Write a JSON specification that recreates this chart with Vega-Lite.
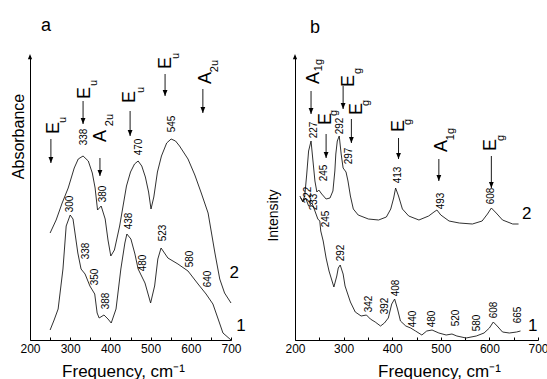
{
"$schema": "https://vega.github.io/schema/vega-lite/v6.json",
"background": "white",
"padding": {"left": 9, "top": 16, "right": 0, "bottom": 0},
"bounds": "flush",
"spacing": 64,
"config": {"view": {"stroke": null}, "font": "Liberation Sans", "axis": {"labelFont": "Liberation Sans", "titleFont": "Liberation Sans", "grid": false, "domainColor": "#000", "tickColor": "#000", "labelColor": "#000", "titleColor": "#000", "titleFontWeight": "normal"}},
"datasets": {
"curves": [
{"p":"a","c":"1","x":250,"y":10},{"p":"a","c":"1","x":260,"y":20},{"p":"a","c":"1","x":270,"y":31},{"p":"a","c":"1","x":282,"y":71},{"p":"a","c":"1","x":290,"y":114},{"p":"a","c":"1","x":300,"y":125},{"p":"a","c":"1","x":307,"y":121},{"p":"a","c":"1","x":319,"y":87},{"p":"a","c":"1","x":327,"y":71},{"p":"a","c":"1","x":337,"y":66},{"p":"a","c":"1","x":349,"y":54},{"p":"a","c":"1","x":361,"y":46},{"p":"a","c":"1","x":367,"y":27},{"p":"a","c":"1","x":372,"y":22},{"p":"a","c":"1","x":384,"y":25},{"p":"a","c":"1","x":394,"y":21},{"p":"a","c":"1","x":402,"y":17},{"p":"a","c":"1","x":414,"y":31},{"p":"a","c":"1","x":426,"y":71},{"p":"a","c":"1","x":436,"y":97},{"p":"a","c":"1","x":441,"y":106},{"p":"a","c":"1","x":451,"y":101},{"p":"a","c":"1","x":461,"y":86},{"p":"a","c":"1","x":469,"y":71},{"p":"a","c":"1","x":486,"y":57},{"p":"a","c":"1","x":493,"y":47},{"p":"a","c":"1","x":500,"y":37},{"p":"a","c":"1","x":510,"y":54},{"p":"a","c":"1","x":518,"y":81},{"p":"a","c":"1","x":526,"y":92},{"p":"a","c":"1","x":543,"y":82},{"p":"a","c":"1","x":568,"y":76},{"p":"a","c":"1","x":593,"y":69},{"p":"a","c":"1","x":618,"y":56},{"p":"a","c":"1","x":638,"y":46},{"p":"a","c":"1","x":655,"y":36},{"p":"a","c":"1","x":668,"y":21},{"p":"a","c":"1","x":680,"y":7},{"p":"a","c":"1","x":700,"y":0},
{"p":"a","c":"2","x":250,"y":107},{"p":"a","c":"2","x":265,"y":120},{"p":"a","c":"2","x":280,"y":137},{"p":"a","c":"2","x":295,"y":152},{"p":"a","c":"2","x":310,"y":172},{"p":"a","c":"2","x":320,"y":181},{"p":"a","c":"2","x":332,"y":184},{"p":"a","c":"2","x":345,"y":179},{"p":"a","c":"2","x":355,"y":167},{"p":"a","c":"2","x":362,"y":152},{"p":"a","c":"2","x":368,"y":130},{"p":"a","c":"2","x":377,"y":134},{"p":"a","c":"2","x":387,"y":121},{"p":"a","c":"2","x":394,"y":100},{"p":"a","c":"2","x":401,"y":84},{"p":"a","c":"2","x":410,"y":90},{"p":"a","c":"2","x":423,"y":114},{"p":"a","c":"2","x":440,"y":154},{"p":"a","c":"2","x":450,"y":168},{"p":"a","c":"2","x":460,"y":176},{"p":"a","c":"2","x":469,"y":179},{"p":"a","c":"2","x":478,"y":174},{"p":"a","c":"2","x":487,"y":163},{"p":"a","c":"2","x":495,"y":148},{"p":"a","c":"2","x":501,"y":131},{"p":"a","c":"2","x":508,"y":143},{"p":"a","c":"2","x":517,"y":168},{"p":"a","c":"2","x":527,"y":184},{"p":"a","c":"2","x":540,"y":197},{"p":"a","c":"2","x":551,"y":201},{"p":"a","c":"2","x":562,"y":199},{"p":"a","c":"2","x":572,"y":194},{"p":"a","c":"2","x":593,"y":181},{"p":"a","c":"2","x":610,"y":165},{"p":"a","c":"2","x":626,"y":147},{"p":"a","c":"2","x":643,"y":127},{"p":"a","c":"2","x":660,"y":87},{"p":"a","c":"2","x":672,"y":61},{"p":"a","c":"2","x":684,"y":47},{"p":"a","c":"2","x":700,"y":37},
{"p":"b","c":"1","x":210,"y":144},{"p":"b","c":"1","x":216,"y":138},{"p":"b","c":"1","x":222,"y":142},{"p":"b","c":"1","x":228,"y":134},{"p":"b","c":"1","x":235,"y":137},{"p":"b","c":"1","x":241,"y":129},{"p":"b","c":"1","x":247,"y":121},{"p":"b","c":"1","x":251,"y":119},{"p":"b","c":"1","x":253,"y":109},{"p":"b","c":"1","x":258,"y":99},{"p":"b","c":"1","x":264,"y":82},{"p":"b","c":"1","x":270,"y":69},{"p":"b","c":"1","x":280,"y":53},{"p":"b","c":"1","x":286,"y":64},{"p":"b","c":"1","x":289,"y":72},{"p":"b","c":"1","x":293,"y":75},{"p":"b","c":"1","x":299,"y":66},{"p":"b","c":"1","x":303,"y":54},{"p":"b","c":"1","x":314,"y":38},{"p":"b","c":"1","x":324,"y":28},{"p":"b","c":"1","x":336,"y":24},{"p":"b","c":"1","x":347,"y":25},{"p":"b","c":"1","x":355,"y":21},{"p":"b","c":"1","x":365,"y":18},{"p":"b","c":"1","x":376,"y":14},{"p":"b","c":"1","x":384,"y":17},{"p":"b","c":"1","x":392,"y":22},{"p":"b","c":"1","x":399,"y":36},{"p":"b","c":"1","x":405,"y":41},{"p":"b","c":"1","x":411,"y":31},{"p":"b","c":"1","x":417,"y":19},{"p":"b","c":"1","x":428,"y":14},{"p":"b","c":"1","x":438,"y":12},{"p":"b","c":"1","x":448,"y":9},{"p":"b","c":"1","x":461,"y":5},{"p":"b","c":"1","x":471,"y":9},{"p":"b","c":"1","x":482,"y":10},{"p":"b","c":"1","x":496,"y":7},{"p":"b","c":"1","x":511,"y":5},{"p":"b","c":"1","x":523,"y":6},{"p":"b","c":"1","x":533,"y":4},{"p":"b","c":"1","x":552,"y":2},{"p":"b","c":"1","x":573,"y":4},{"p":"b","c":"1","x":589,"y":7},{"p":"b","c":"1","x":600,"y":12},{"p":"b","c":"1","x":608,"y":18},{"p":"b","c":"1","x":616,"y":14},{"p":"b","c":"1","x":627,"y":8},{"p":"b","c":"1","x":641,"y":7},{"p":"b","c":"1","x":656,"y":8},{"p":"b","c":"1","x":664,"y":9},
{"p":"b","c":"2","x":212,"y":142},{"p":"b","c":"2","x":216,"y":139},{"p":"b","c":"2","x":220,"y":144},{"p":"b","c":"2","x":224,"y":165},{"p":"b","c":"2","x":228,"y":189},{"p":"b","c":"2","x":233,"y":199},{"p":"b","c":"2","x":237,"y":179},{"p":"b","c":"2","x":241,"y":159},{"p":"b","c":"2","x":245,"y":148},{"p":"b","c":"2","x":249,"y":150},{"p":"b","c":"2","x":255,"y":146},{"p":"b","c":"2","x":264,"y":141},{"p":"b","c":"2","x":272,"y":142},{"p":"b","c":"2","x":278,"y":149},{"p":"b","c":"2","x":282,"y":169},{"p":"b","c":"2","x":284,"y":186},{"p":"b","c":"2","x":287,"y":199},{"p":"b","c":"2","x":291,"y":204},{"p":"b","c":"2","x":295,"y":186},{"p":"b","c":"2","x":299,"y":172},{"p":"b","c":"2","x":305,"y":168},{"p":"b","c":"2","x":309,"y":159},{"p":"b","c":"2","x":314,"y":144},{"p":"b","c":"2","x":320,"y":131},{"p":"b","c":"2","x":330,"y":125},{"p":"b","c":"2","x":351,"y":121},{"p":"b","c":"2","x":372,"y":120},{"p":"b","c":"2","x":388,"y":123},{"p":"b","c":"2","x":397,"y":131},{"p":"b","c":"2","x":403,"y":142},{"p":"b","c":"2","x":407,"y":152},{"p":"b","c":"2","x":413,"y":144},{"p":"b","c":"2","x":421,"y":131},{"p":"b","c":"2","x":434,"y":124},{"p":"b","c":"2","x":455,"y":120},{"p":"b","c":"2","x":475,"y":124},{"p":"b","c":"2","x":486,"y":128},{"p":"b","c":"2","x":492,"y":130},{"p":"b","c":"2","x":500,"y":125},{"p":"b","c":"2","x":517,"y":119},{"p":"b","c":"2","x":538,"y":117},{"p":"b","c":"2","x":565,"y":116},{"p":"b","c":"2","x":585,"y":119},{"p":"b","c":"2","x":596,"y":126},{"p":"b","c":"2","x":604,"y":132},{"p":"b","c":"2","x":614,"y":127},{"p":"b","c":"2","x":627,"y":120},{"p":"b","c":"2","x":648,"y":116},{"p":"b","c":"2","x":660,"y":116}
],
"nums": [
{"p":"a","x":334,"y":203,"t":"338"},{"p":"a","x":382,"y":146,"t":"380"},{"p":"a","x":471,"y":193,"t":"470"},{"p":"a","x":553,"y":216,"t":"545"},{"p":"a","x":300,"y":136,"t":"300"},{"p":"a","x":339,"y":89,"t":"338"},{"p":"a","x":362,"y":63,"t":"350"},{"p":"a","x":389,"y":39,"t":"388"},{"p":"a","x":446,"y":119,"t":"438"},{"p":"a","x":481,"y":77,"t":"480"},{"p":"a","x":531,"y":107,"t":"523"},{"p":"a","x":598,"y":81,"t":"580"},{"p":"a","x":643,"y":61,"t":"640"},
{"p":"b","x":239,"y":210,"t":"227"},{"p":"b","x":260,"y":167,"t":"245"},{"p":"b","x":293,"y":214,"t":"292"},{"p":"b","x":311,"y":184,"t":"297"},{"p":"b","x":411,"y":165,"t":"413"},{"p":"b","x":500,"y":139,"t":"493"},{"p":"b","x":604,"y":144,"t":"608"},{"p":"b","x":226,"y":145,"t":"222"},{"p":"b","x":239,"y":138,"t":"233"},{"p":"b","x":264,"y":121,"t":"245"},{"p":"b","x":295,"y":87,"t":"292"},{"p":"b","x":353,"y":36,"t":"342"},{"p":"b","x":386,"y":34,"t":"392"},{"p":"b","x":407,"y":52,"t":"408"},{"p":"b","x":442,"y":21,"t":"440"},{"p":"b","x":482,"y":21,"t":"480"},{"p":"b","x":531,"y":22,"t":"520"},{"p":"b","x":575,"y":17,"t":"580"},{"p":"b","x":610,"y":30,"t":"608"},{"p":"b","x":658,"y":25,"t":"665"}
],
"lbl": [
{"p":"a","x":708,"y":67,"t":"2"},{"p":"a","x":725,"y":14,"t":"1"},{"p":"b","x":677,"y":126,"t":"2"},{"p":"b","x":689,"y":14,"t":"1"}
],
"letters": [
{"p":"a","x":240,"y":314,"t":"a"},{"p":"b","x":241,"y":312,"t":"b"}
],
"band": [
{"p":"a","x":260,"y":212,"t":"E"},{"p":"a","x":337,"y":247,"t":"E"},{"p":"a","x":377,"y":204,"t":"A"},{"p":"a","x":449,"y":243,"t":"E"},{"p":"a","x":538,"y":277,"t":"E"},{"p":"a","x":638,"y":262,"t":"A"},
{"p":"b","x":239,"y":262,"t":"A"},{"p":"b","x":264,"y":221,"t":"E"},{"p":"b","x":311,"y":259,"t":"E"},{"p":"b","x":328,"y":231,"t":"E"},{"p":"b","x":413,"y":214,"t":"E"},{"p":"b","x":502,"y":194,"t":"A"},{"p":"b","x":604,"y":195,"t":"E"}
],
"sub": [
{"p":"a","x":281,"y":220,"t":"u"},{"p":"a","x":359,"y":257,"t":"u"},{"p":"a","x":398,"y":220,"t":"2u"},{"p":"a","x":475,"y":250,"t":"u"},{"p":"a","x":562,"y":284,"t":"u"},{"p":"a","x":659,"y":274,"t":"2u"},
{"p":"b","x":249,"y":275,"t":"1g"},{"p":"b","x":281,"y":227,"t":"g"},{"p":"b","x":329,"y":269,"t":"g"},{"p":"b","x":346,"y":237,"t":"g"},{"p":"b","x":433,"y":218,"t":"g"},{"p":"b","x":522,"y":206,"t":"1g"},{"p":"b","x":624,"y":202,"t":"g"}
],
"arr": [
{"p":"a","x":252,"y":177,"y2":201},{"p":"a","x":332,"y":216,"y2":239},{"p":"a","x":374,"y":164,"y2":182},{"p":"a","x":449,"y":204,"y2":229},{"p":"a","x":536,"y":244,"y2":266},{"p":"a","x":630,"y":227,"y2":251},
{"p":"b","x":233,"y":226,"y2":249},{"p":"b","x":264,"y":182,"y2":206},{"p":"b","x":299,"y":231,"y2":254},{"p":"b","x":316,"y":197,"y2":221},{"p":"b","x":413,"y":181,"y2":202},{"p":"b","x":496,"y":159,"y2":181},{"p":"b","x":604,"y":152,"y2":184}
],
"axarrow": [
{"p":"a","x":200,"y":286},{"p":"b","x":200,"y":286}
]
},
"hconcat": [
{
"width": 201, "height": 284,
"encoding": {
"x": {"field": "x", "type": "quantitative", "scale": {"domain": [200, 700], "nice": false, "zero": false}, "axis": {"title": "Frequency, cm⁻¹", "values": [200,250,300,350,400,450,500,550,600,650,700], "labelExpr": "datum.value % 100 === 0 ? datum.label : ''", "tickSize": -3, "labelPadding": 6, "labelFlush": false, "labelFontSize": 12, "titleFontSize": 17, "titlePadding": 9, "titleX": 93, "titleAlign": "center"}},
"y": {"field": "y", "type": "quantitative", "scale": {"domain": [0, 284], "nice": false, "zero": false}, "axis": {"title": "Absorbance", "ticks": false, "labels": false, "titleFontSize": 16, "titleX": -4, "titleY": 80, "titleAlign": "center", "titleBaseline": "bottom", "titleAngle": 270}}
},
"layer": [
{"data": {"name": "curves"}, "transform": [{"filter": "datum.p === 'a'"}], "mark": {"type": "line", "color": "#1a1a1a", "strokeWidth": 0.9}, "encoding": {"detail": {"field": "c"}}},
{"data": {"name": "arr"}, "transform": [{"filter": "datum.p === 'a'"}], "mark": {"type": "rule", "color": "#000", "strokeWidth": 0.9}, "encoding": {"y2": {"field": "y2"}}},
{"data": {"name": "arr"}, "transform": [{"filter": "datum.p === 'a'"}], "mark": {"type": "point", "shape": "M-0.6,-1.5L0.6,-1.5L0,0Z", "size": 64, "filled": true, "color": "#000", "opacity": 1}},
{"data": {"name": "axarrow"}, "transform": [{"filter": "datum.p === 'a'"}], "mark": {"type": "point", "shape": "M-0.6,1.5L0.6,1.5L0,0Z", "size": 50, "filled": true, "color": "#000", "opacity": 1}},
{"data": {"name": "nums"}, "transform": [{"filter": "datum.p === 'a'"}], "mark": {"type": "text", "angle": 270, "fontSize": 10, "align": "center", "baseline": "middle", "color": "#000"}, "encoding": {"text": {"field": "t"}}},
{"data": {"name": "band"}, "transform": [{"filter": "datum.p === 'a'"}], "mark": {"type": "text", "angle": 270, "fontSize": 18, "align": "center", "baseline": "middle", "color": "#000"}, "encoding": {"text": {"field": "t"}}},
{"data": {"name": "sub"}, "transform": [{"filter": "datum.p === 'a'"}], "mark": {"type": "text", "angle": 270, "fontSize": 11, "align": "center", "baseline": "middle", "color": "#000"}, "encoding": {"text": {"field": "t"}}},
{"data": {"name": "lbl"}, "transform": [{"filter": "datum.p === 'a'"}], "mark": {"type": "text", "fontSize": 17, "align": "center", "baseline": "middle", "color": "#000"}, "encoding": {"text": {"field": "t"}}},
{"data": {"name": "letters"}, "transform": [{"filter": "datum.p === 'a'"}], "mark": {"type": "text", "fontSize": 18, "align": "center", "baseline": "middle", "color": "#000"}, "encoding": {"text": {"field": "t"}}}
]
},
{
"width": 243, "height": 284,
"encoding": {
"x": {"field": "x", "type": "quantitative", "scale": {"domain": [200, 700], "nice": false, "zero": false}, "axis": {"title": "Frequency, cm⁻¹", "values": [200,250,300,350,400,450,500,550,600,650,700], "labelExpr": "datum.value % 100 === 0 ? datum.label : ''", "tickSize": -3, "labelPadding": 6, "labelFlush": false, "labelFontSize": 12, "titleFontSize": 17, "titlePadding": 9, "titleX": 144, "titleAlign": "center"}},
"y": {"field": "y", "type": "quantitative", "scale": {"domain": [0, 284], "nice": false, "zero": false}, "axis": {"title": "Intensity", "ticks": false, "labels": false, "titleFontSize": 14, "titleX": -15, "titleY": 159, "titleAlign": "center", "titleBaseline": "bottom", "titleAngle": 270}}
},
"layer": [
{"data": {"name": "curves"}, "transform": [{"filter": "datum.p === 'b'"}], "mark": {"type": "line", "color": "#1a1a1a", "strokeWidth": 0.9}, "encoding": {"detail": {"field": "c"}}},
{"data": {"name": "arr"}, "transform": [{"filter": "datum.p === 'b'"}], "mark": {"type": "rule", "color": "#000", "strokeWidth": 0.9}, "encoding": {"y2": {"field": "y2"}}},
{"data": {"name": "arr"}, "transform": [{"filter": "datum.p === 'b'"}], "mark": {"type": "point", "shape": "M-0.6,-1.5L0.6,-1.5L0,0Z", "size": 64, "filled": true, "color": "#000", "opacity": 1}},
{"data": {"name": "axarrow"}, "transform": [{"filter": "datum.p === 'b'"}], "mark": {"type": "point", "shape": "M-0.6,1.5L0.6,1.5L0,0Z", "size": 50, "filled": true, "color": "#000", "opacity": 1}},
{"data": {"name": "nums"}, "transform": [{"filter": "datum.p === 'b'"}], "mark": {"type": "text", "angle": 270, "fontSize": 10, "align": "center", "baseline": "middle", "color": "#000"}, "encoding": {"text": {"field": "t"}}},
{"data": {"name": "band"}, "transform": [{"filter": "datum.p === 'b'"}], "mark": {"type": "text", "angle": 270, "fontSize": 18, "align": "center", "baseline": "middle", "color": "#000"}, "encoding": {"text": {"field": "t"}}},
{"data": {"name": "sub"}, "transform": [{"filter": "datum.p === 'b'"}], "mark": {"type": "text", "angle": 270, "fontSize": 11, "align": "center", "baseline": "middle", "color": "#000"}, "encoding": {"text": {"field": "t"}}},
{"data": {"name": "lbl"}, "transform": [{"filter": "datum.p === 'b'"}], "mark": {"type": "text", "fontSize": 17, "align": "center", "baseline": "middle", "color": "#000"}, "encoding": {"text": {"field": "t"}}},
{"data": {"name": "letters"}, "transform": [{"filter": "datum.p === 'b'"}], "mark": {"type": "text", "fontSize": 18, "align": "center", "baseline": "middle", "color": "#000"}, "encoding": {"text": {"field": "t"}}}
]
}
]
}
